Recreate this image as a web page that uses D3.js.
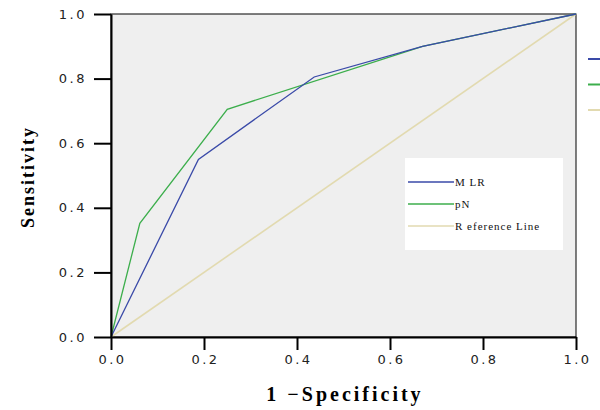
<!DOCTYPE html>
<html>
<head>
<meta charset="utf-8">
<script src="https://cdn.jsdelivr.net/npm/d3@7"></script>
<style>
  body { margin: 0; background: #fff; }
  svg { display: block; }
</style>
</head>
<body>
<svg id="chart" width="600" height="410"></svg>
<script>
// ROC curve points (1 - specificity, sensitivity)
const mlrX = [0, 0.188, 0.437, 0.67, 1];
const mlrY = [0, 0.55, 0.805, 0.90, 1];
const pnX = [0, 0.062, 0.25, 0.67, 1];
const pnY = [0, 0.352, 0.705, 0.90, 1];
const refX = [0, 1];
const refY = [0, 1];
const tickValues = [0, 0.2, 0.4, 0.6, 0.8, 1.0];
const seriesNames = ["M LR", "pN", "R eference Line"];
const seriesColors = ["#3a4aa8", "#3cae4c", "#e2dab0"];

const svg = d3.select("#chart");
const margin = { left: 111, right: 24, top: 14, bottom: 73 };
const W = 600, H = 410;

const x = d3.scaleLinear().domain([0, 1]).range([margin.left, W - margin.right]);
const y = d3.scaleLinear().domain([0, 1]).range([H - margin.bottom, margin.top]);

// plot background
svg.append("rect")
    .attr("x", x(0)).attr("y", y(1))
    .attr("width", x(1) - x(0)).attr("height", y(0) - y(1))
    .attr("fill", "#efefef")
    .attr("stroke", "#000").attr("stroke-width", 1);

const line = d3.line().x(d => x(d[0])).y(d => y(d[1]));
const series = [
    d3.zip(mlrX, mlrY),
    d3.zip(pnX, pnY),
    d3.zip(refX, refY)
];

// draw reference first so curves sit on top
[2, 1, 0].forEach(i => {
    svg.append("path")
        .datum(series[i])
        .attr("d", line)
        .attr("fill", "none")
        .attr("stroke", seriesColors[i])
        .attr("stroke-width", i === 2 ? 1.6 : 1.3);
});

// axes
const xAxis = d3.axisBottom(x).tickValues(tickValues).tickFormat(d3.format(".1f")).tickSize(13).tickSizeOuter(0);
const yAxis = d3.axisLeft(y).tickValues(tickValues).tickFormat(d3.format(".1f")).tickSize(17).tickSizeOuter(0);

const gx = svg.append("g").attr("transform", `translate(0,${y(0)})`).call(xAxis);
const gy = svg.append("g").attr("transform", `translate(${x(0)},0)`).call(yAxis);

[gx, gy].forEach(g => {
    g.select(".domain").attr("stroke", "#000").attr("stroke-width", 2);
    g.selectAll(".tick line").attr("stroke", "#000").attr("stroke-width", 2);
    g.selectAll(".tick text")
        .attr("fill", "#222")
        .style("font-family", "'DejaVu Sans', sans-serif")
        .style("font-size", "13px")
        .style("letter-spacing", "2.5px");
});
gx.selectAll(".tick text").attr("dy", "0.9em").attr("y", 15).attr("dx", "1px");
gy.selectAll(".tick text").attr("x", -24);

// axis titles
svg.append("text")
    .attr("x", 345).attr("y", 401)
    .attr("text-anchor", "middle")
    .style("font-family", "'Liberation Serif', serif")
    .style("font-weight", "bold")
    .style("font-size", "20px")
    .style("letter-spacing", "3px")
    .text("1 \u2212Specificity");

svg.append("text")
    .attr("transform", "translate(34,177) rotate(-90)")
    .attr("text-anchor", "middle")
    .style("font-family", "'Liberation Serif', serif")
    .style("font-weight", "bold")
    .style("font-size", "18px")
    .style("letter-spacing", "2px")
    .text("Sensitivity");

// legend inside plot
const legend = svg.append("g");
legend.append("rect")
    .attr("x", 405).attr("y", 158)
    .attr("width", 158).attr("height", 92)
    .attr("fill", "#fff");

seriesNames.forEach((name, i) => {
    const ly = 182 + i * 22;
    legend.append("line")
        .attr("x1", 408).attr("x2", 454)
        .attr("y1", ly).attr("y2", ly)
        .attr("stroke", seriesColors[i]).attr("stroke-width", 1.3);
    legend.append("text")
        .attr("x", 455).attr("y", ly + 4)
        .style("font-family", "'Liberation Serif', serif")
        .style("font-size", "11px")
        .style("letter-spacing", "1px")
        .attr("fill", "#111")
        .text(name);
});

// clipped outer legend keys at right edge
seriesColors.forEach((c, i) => {
    svg.append("line")
        .attr("x1", 588).attr("x2", 600)
        .attr("y1", 59 + i * 25.5).attr("y2", 59 + i * 25.5)
        .attr("stroke", c).attr("stroke-width", 2);
});
</script>
</body>
</html>
